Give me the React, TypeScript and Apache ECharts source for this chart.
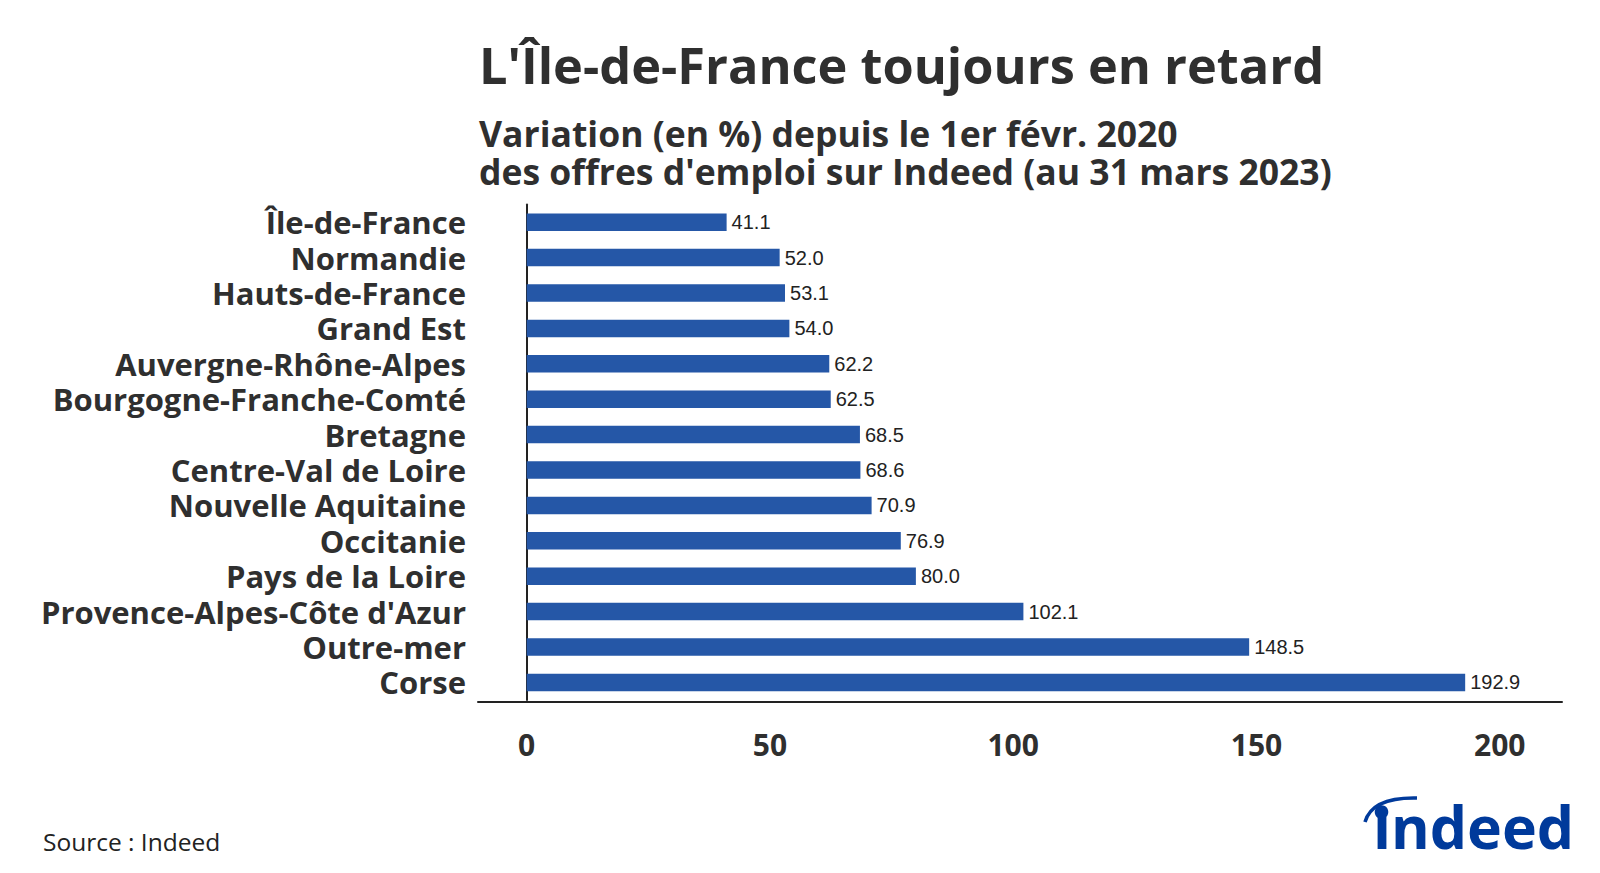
import React, { useEffect, useRef } from "react";
import * as echarts from "echarts";

const categories = [
  "Île-de-France",
  "Normandie",
  "Hauts-de-France",
  "Grand Est",
  "Auvergne-Rhône-Alpes",
  "Bourgogne-Franche-Comté",
  "Bretagne",
  "Centre-Val de Loire",
  "Nouvelle Aquitaine",
  "Occitanie",
  "Pays de la Loire",
  "Provence-Alpes-Côte d'Azur",
  "Outre-mer",
  "Corse",
];
const values = [41.1, 52.0, 53.1, 54.0, 62.2, 62.5, 68.5, 68.6, 70.9, 76.9, 80.0, 102.1, 148.5, 192.9];
const xTicks = [0, 50, 100, 150, 200];

const titleText = "L'Île-de-France toujours en retard";
const subtitleLines = [
  "Variation (en %) depuis le 1er févr. 2020",
  "des offres d'emploi sur Indeed (au 31 mars 2023)",
];
const sourceText = "Source : Indeed";

const FONT = '"Open Sans", "Noto Sans", sans-serif';
const DARK = "#2f2f2f";
const BLUE = "#2557a7";
const LOGO = "#003a9b";

export default function App() {
  const ref = useRef<HTMLDivElement>(null);
  useEffect(() => {
    document.body.style.margin = "0";
    const chart = echarts.init(ref.current!, undefined, { renderer: "svg" });
    chart.setOption({
      animation: false,
      backgroundColor: "#ffffff",
      grid: { left: 478, right: 38, top: 204.5, height: 495.6, containLabel: false },
      xAxis: {
        type: "value",
        min: -10,
        max: 212.8,
        offset: 2,
        axisLine: { show: true, lineStyle: { color: "#222", width: 2 } },
        axisTick: { show: false },
        splitLine: { show: false },
        axisLabel: {
          customValues: xTicks,
          fontFamily: FONT,
          fontWeight: "bold",
          fontSize: 30,
          color: DARK,
          margin: 27,
        },
      },
      yAxis: {
        type: "category",
        data: categories,
        inverse: true,
        axisLine: { show: true, lineStyle: { color: "#222", width: 2 } },
        axisTick: { show: false },
        splitLine: { show: false },
        axisLabel: {
          interval: 0,
          fontFamily: FONT,
          fontWeight: "bold",
          fontSize: 31,
          lineHeight: 34,
          color: DARK,
          margin: 12,
        },
      },
      series: [
        {
          type: "bar",
          data: values,
          barWidth: 17.5,
          itemStyle: { color: BLUE },
          label: {
            show: true,
            position: "right",
            distance: 5,
            fontFamily: '"Liberation Sans", Arial, sans-serif',
            fontSize: 20,
            color: "#222",
            formatter: (p: any) => Number(p.value).toFixed(1),
          },
        },
      ],
      graphic: [
        {
          type: "text",
          x: 479,
          y: 64,
          style: {
            text: titleText,
            font: `bold 50.5px ${FONT}`,
            fill: DARK,
            textAlign: "left",
            textVerticalAlign: "middle",
          },
        },
        {
          type: "text",
          x: 479,
          y: 152,
          style: {
            text: subtitleLines.join("\n"),
            font: `bold 35.5px ${FONT}`,
            lineHeight: 38,
            fill: DARK,
            textAlign: "left",
            textVerticalAlign: "middle",
          },
        },
        {
          type: "text",
          x: 43,
          y: 841,
          style: {
            text: sourceText,
            font: `24.5px ${FONT}`,
            fill: "#222",
            textAlign: "left",
            textVerticalAlign: "middle",
          },
        },
        {
          type: "text",
          x: 1373,
          y: 826,
          style: {
            text: "ındeed",
            font: `bold 59px ${FONT}`,
            fill: LOGO,
            textAlign: "left",
            textVerticalAlign: "middle",
          },
        },
        {
          type: "circle",
          shape: { cx: 1381.5, cy: 812, r: 6.8 },
          style: { fill: LOGO },
        },
        {
          type: "bezierCurve",
          shape: { x1: 1365, y1: 822, cpx1: 1372, cpy1: 797, x2: 1417, y2: 798 },
          style: { stroke: LOGO, lineWidth: 3.5, fill: "none" },
        },
      ],
    });
    return () => chart.dispose();
  }, []);
  return <div ref={ref} style={{ width: 1600, height: 873 }} />;
}
